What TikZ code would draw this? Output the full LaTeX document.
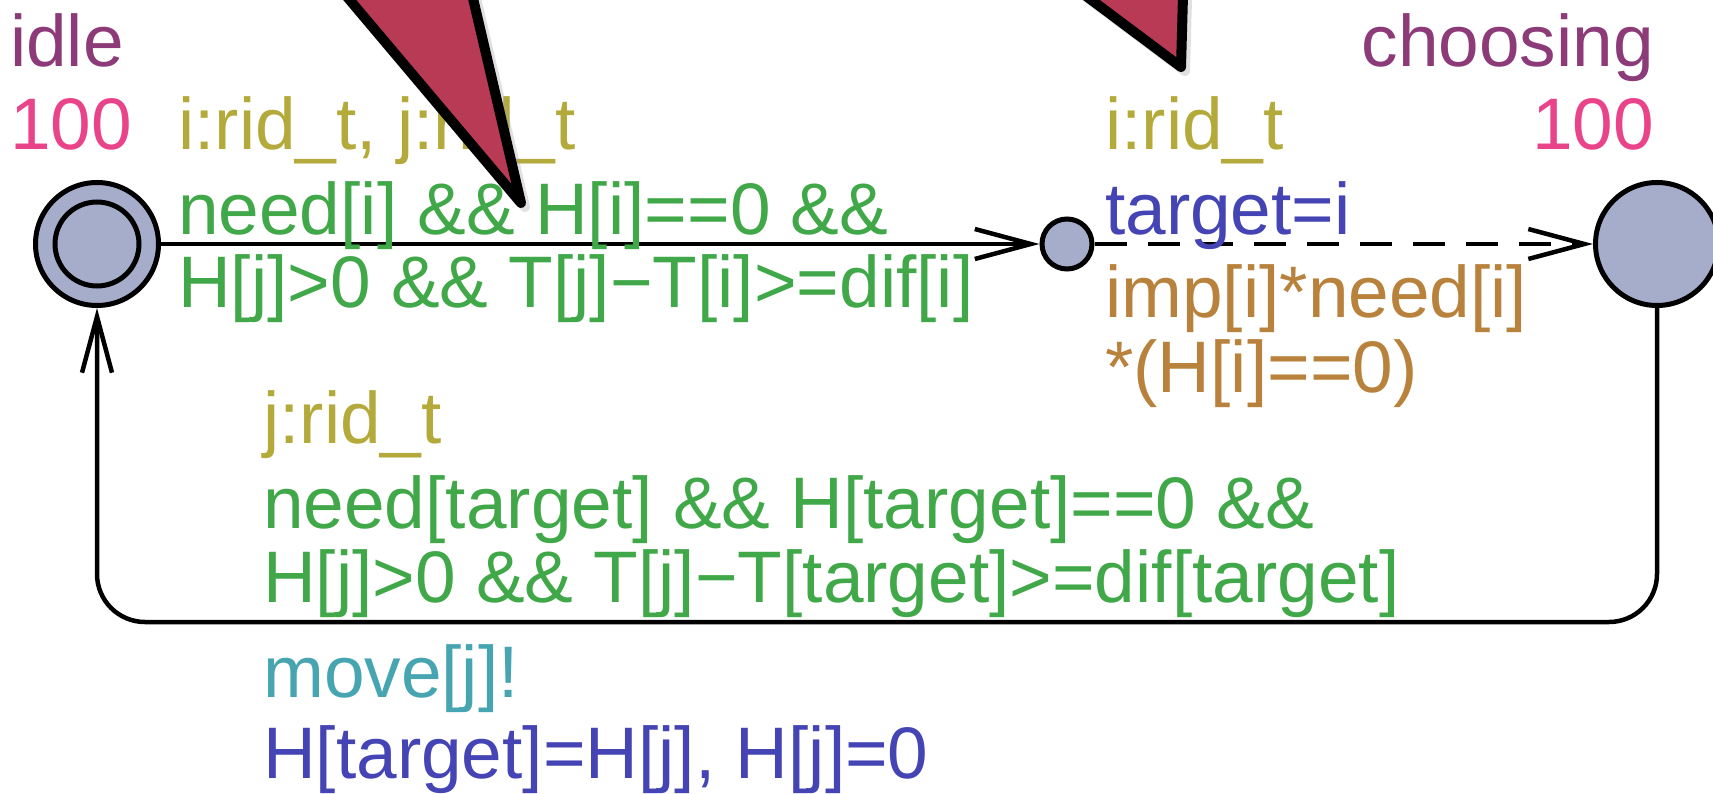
\documentclass[tikz,border=0pt]{standalone}
\usepackage{fontspec}
\setmainfont{Liberation Sans}
\usetikzlibrary{arrows.meta}

\definecolor{locfill}{HTML}{A5ADCB}
\definecolor{namecol}{HTML}{8C3A78}
\definecolor{invcol}{HTML}{E9448A}
\definecolor{selcol}{HTML}{B4AA3C}
\definecolor{guardcol}{HTML}{40A848}
\definecolor{updcol}{HTML}{4444B4}
\definecolor{probcol}{HTML}{B9823C}
\definecolor{synccol}{HTML}{46A5B0}
\definecolor{notecol}{HTML}{B93A55}

\newcommand\labfont{\fontsize{73pt}{73pt}\selectfont}

\begin{document}
\begin{tikzpicture}[x=1pt,y=-1pt,
  loc/.style={circle, draw=black, line width=5pt, fill=locfill, inner sep=0pt},
  ring/.style={circle, draw=black, line width=5pt, inner sep=0pt},
  lbl/.style={anchor=base west, inner sep=0pt, font=\labfont},
  lblr/.style={anchor=base east, inner sep=0pt, font=\labfont},
  edge/.style={draw=black, line width=4.5pt, -{Straight Barb[length=56pt,width=30pt]}},
  tail/.style={fill=notecol, draw=black, line width=10pt, line join=round},
  tailshadow/.style={fill=black!35, draw=black!35, line width=10pt, line join=round, opacity=0.35}]

\useasboundingbox (0,0) rectangle (1713,794);
\clip (0,0) rectangle (1713,794);

% locations
\node[loc, minimum size=123pt] (idle) at (97,244) {};
\node[ring, minimum size=84pt] (idlein) at (idle.center) {};
\node[loc, minimum size=50pt] (mid) at (1067,244) {};
\node[loc, minimum size=123pt] (choosing) at (1657,244) {};

% transitions
\draw[edge] (idle) -- (mid);
\draw[edge, dash pattern=on 32pt off 21pt] (mid) -- (choosing);
\coordinate (br) at (1657,622);
\coordinate (bl) at (97,622);
\draw[edge, rounded corners=48pt] (choosing.south) -- (br) -- (bl) -- (idle.south);

% location names and invariants
\node[lbl, text=namecol] (idlename) at (10,67) {idle};
\node[lbl, text=invcol] (idleinv) at (10,150) {100};
\node[lblr, text=namecol] (choosingname) at (1654,67) {choosing};
\node[lblr, text=invcol] (choosinginv) at (1654,150) {100};

% idle -> mid
\node[lbl, text=selcol] (sel1) at (178,150) {i:rid\_t, j:rid\_t};
\node[lbl, text=guardcol] (guard1a) at (178,235) {need[i] \&\& H[i]==0 \&\&};
\node[lbl, text=guardcol] (guard1b) at (178,308) {H[j]>0 \&\& T[j]−T[i]>=dif[i]};

% mid -> choosing
\node[lbl, text=selcol] (sel2) at (1105,150) {i:rid\_t};
\node[lbl, text=updcol] (upd2) at (1105,235) {target=i};
\node[lbl, text=probcol] (prob2a) at (1105,317) {imp[i]*need[i]};
\node[lbl, text=probcol] (prob2b) at (1105,392) {*(H[i]==0)};

% choosing -> idle
\node[lbl, text=selcol] (sel3) at (263,443) {j:rid\_t};
\node[lbl, text=guardcol] (guard3a) at (263,528) {need[target] \&\& H[target]==0 \&\&};
\node[lbl, text=guardcol] (guard3b) at (263,602) {H[j]>0 \&\& T[j]−T[target]>=dif[target]};
\node[lbl, text=synccol] (sync3) at (263,697) {move[j]!};
\node[lbl, text=updcol] (upd3) at (263,778) {H[target]=H[j], H[j]=0};

% comment pointers
\path[tailshadow, shift={(4,4)}] (316,-40) -- (521,203) -- (464,-40) -- cycle;
\path[tailshadow, shift={(4,4)}] (1038,-40) -- (1181,67) -- (1184,-40) -- cycle;
\path[tail] (316,-40) -- (521,203) -- (464,-40) -- cycle;
\path[tail] (1038,-40) -- (1181,67) -- (1184,-40) -- cycle;

\end{tikzpicture}
\end{document}
